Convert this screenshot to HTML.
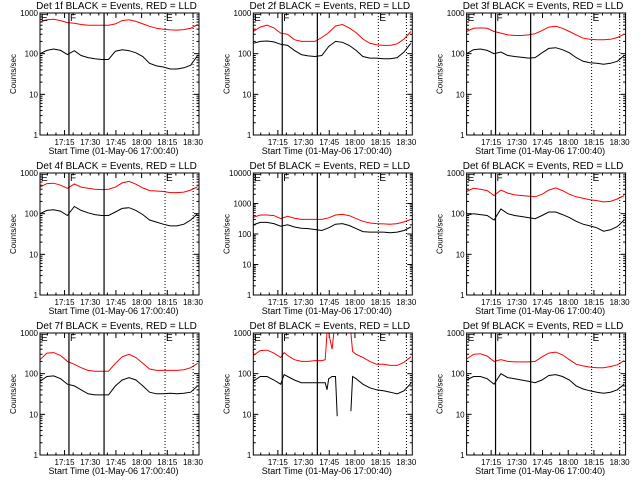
<!DOCTYPE html>
<html><head><meta charset="utf-8"><style>
body{margin:0;background:#fff;}
svg{display:block;font-family:"Liberation Sans",sans-serif;}
</style></head><body>
<svg id="c" width="640" height="480" viewBox="0 0 640 480"></svg>
<script>
const times = [0,4,8,12,16,20,24,28,32,36,40,44,48,52,56,60,64,68,72,76,80,84,88,92];
const times8 = [0,4,8,12,16,18,20,24,28,32,36,40,42,43,44,46,47,48,49,50,56,57,58,60,64,68,72,76,80,84,88,92];
const black1 = [100,120,130,120,95,118,90,80,75,72,72,115,125,118,105,85,58,50,47,42,42,45,52,90];
const red1 = [600,680,700,650,580,560,520,500,500,500,500,540,650,680,620,540,470,420,400,385,380,390,420,520];
const black2 = [180,200,205,195,170,160,120,95,88,85,90,150,200,190,160,120,85,78,78,75,75,80,110,180];
const red2 = [350,450,500,430,320,300,220,200,200,200,250,330,480,520,430,330,230,180,165,160,160,175,230,350];
const black3 = [100,125,130,120,100,110,90,85,82,78,80,105,135,140,125,105,80,65,60,58,55,58,65,90];
const red3 = [350,420,430,420,350,320,290,280,280,290,310,370,450,470,420,350,290,240,225,220,220,225,250,300];
const black4 = [100,120,125,115,90,150,120,105,95,90,90,110,135,140,120,95,70,62,55,50,50,55,70,100];
const red4 = [450,550,560,500,420,540,450,420,400,390,400,450,570,620,530,430,370,360,350,330,330,340,380,460];
const black5 = [200,240,240,220,180,200,170,155,150,140,130,160,210,220,190,150,120,115,115,115,110,115,130,170];
const red5 = [350,420,420,400,320,380,330,300,300,300,300,340,420,440,400,320,260,230,220,215,210,220,250,300];
const black6 = [90,100,95,90,70,130,100,90,85,80,75,90,110,110,95,80,65,55,50,45,37,40,48,70];
const red6 = [350,420,400,370,280,380,320,290,280,270,260,300,380,430,370,300,260,240,220,210,195,200,230,280];
const black7 = [65,85,88,75,55,50,40,32,30,30,30,50,70,80,70,50,35,32,32,33,32,33,35,50];
const red7 = [220,320,330,280,200,170,140,120,115,115,115,180,260,300,250,180,130,120,120,120,120,125,140,180];
const black8 = [65,85,85,70,55,95,85,70,60,60,60,60,60,40,75,85,85,85,9,null,null,12,85,75,55,45,40,38,35,32,38,58];
const red8 = [280,370,380,320,250,330,280,220,200,200,210,210,220,3000,3000,400,3000,3000,null,null,3000,3000,350,300,250,200,170,170,160,160,190,260];
const black9 = [70,85,85,75,55,100,80,75,70,65,60,70,90,95,85,70,50,42,38,35,33,35,40,55];
const red9 = [230,300,310,270,200,220,200,195,195,195,200,260,320,340,290,220,170,155,145,140,140,150,165,210];
const tickLabels = ["17:15","17:30","17:45","18:00","18:15","18:30"];
const tickTimes = [14.33,29.33,44.33,59.33,74.33,89.33];
const eventLines = [16.9,37.4];
const dottedLines = [73.0,89.4];

const panels = [
 {d:1,t:times,b:black1,r:red1,top:3},{d:2,t:times,b:black2,r:red2,top:3},{d:3,t:times,b:black3,r:red3,top:3},
 {d:4,t:times,b:black4,r:red4,top:3},{d:5,t:times,b:black5,r:red5,top:4},{d:6,t:times,b:black6,r:red6,top:3},
 {d:7,t:times,b:black7,r:red7,top:3},{d:8,t:times8,b:black8,r:red8,top:3},{d:9,t:times,b:black9,r:red9,top:3}];
const svg=document.getElementById('c');
const NS='http://www.w3.org/2000/svg';
function mk(tag,attrs,parent,text){const e=document.createElementNS(NS,tag);for(const k in attrs)e.setAttribute(k,attrs[k]);if(text!==undefined)e.textContent=text;parent.appendChild(e);return e;}
const W=159,H=122,TMAX=92.83;
panels.forEach((p,i)=>{
 const ox=(i%3)*213.3, oy=Math.floor(i/3)*160;
 const L=ox+40,T=oy+13,B=T+H,R=L+W;
 const g=mk('g',{},svg);
 
 
 const xs=t=>L+t/TMAX*W;
 const ys=v=>B-Math.log10(v)/p.top*H;
 const tt=mk('text',{x:L+W/2-3,y:oy+9,'font-size':10,'text-anchor':'middle'},g,'Det '+p.d+'f BLACK = Events, RED = LLD');
 
 
 const yl=mk('text',{x:0,y:0,'font-size':8,'text-anchor':'middle',transform:`translate(${ox+16},${T+H/2}) rotate(-90)`},g,'Counts/sec');
 
 
 const xl=mk('text',{x:L+W/2-6,y:oy+154,'font-size':9,'text-anchor':'middle'},g,'Start Time (01-May-06 17:00:40)');
 
 
 // y ticks
 for(let d=0;d<=p.top;d++){
  const y=ys(Math.pow(10,d));
  mk('line',{x1:L,x2:L+5,y1:y,y2:y,stroke:'#000'},g);mk('line',{x1:R,x2:R-5,y1:y,y2:y,stroke:'#000'},g);
  const lb=mk('text',{x:L-2,y:y+3,'font-size':8,'text-anchor':'end'},g,String(Math.pow(10,d)));
  
  
  if(d<p.top)for(let m=2;m<10;m++){const ym=ys(m*Math.pow(10,d));mk('line',{x1:L,x2:L+2.5,y1:ym,y2:ym,stroke:'#000'},g);mk('line',{x1:R,x2:R-2.5,y1:ym,y2:ym,stroke:'#000'},g);}
 }
 for(let m=4.33;m<TMAX;m+=5){const x=xs(m);const maj=Math.abs((m-14.33)%15)<0.1;const len=maj?5:2.5;
  mk('line',{x1:x,x2:x,y1:B,y2:B-len,stroke:'#000'},g);mk('line',{x1:x,x2:x,y1:T,y2:T+len,stroke:'#000'},g);}
 tickLabels.forEach((s,k)=>{const lb=mk('text',{x:xs(tickTimes[k]),y:oy+145,'font-size':8,'text-anchor':'middle'},g,s);
  
  });
 // series
 [[p.r,'#f00','red-lld-series'],[p.b,'#000','black-events-series']].forEach(([arr,col,nm])=>{
  let d='',pen=false;
  arr.forEach((v,k)=>{if(v===null){pen=false;return;}d+=(pen?'L':'M')+xs(p.t[k]).toFixed(1)+' '+Math.max(T,ys(v)).toFixed(1);pen=true;});
  const pa=mk('path',{d:d,fill:'none',stroke:col,'stroke-width':1},g);
  
  
 });
 eventLines.forEach(t=>mk('line',{x1:xs(t),x2:xs(t),y1:T,y2:B,stroke:'#000','stroke-width':1.2},g));
 dottedLines.forEach(t=>mk('line',{x1:xs(t),x2:xs(t),y1:T,y2:B,stroke:'#000','stroke-dasharray':'1,2'},g));
 [[0,'E'],[eventLines[0],'F'],[dottedLines[0],'E']].forEach(([t,s])=>{const lb=mk('text',{x:xs(t)+1,y:T+8,'font-size':10},g,s);
  
  });
 mk('rect',{x:L,y:T,width:W,height:H,fill:'none',stroke:'#000','stroke-width':1},g);
});
</script>
</body></html>
